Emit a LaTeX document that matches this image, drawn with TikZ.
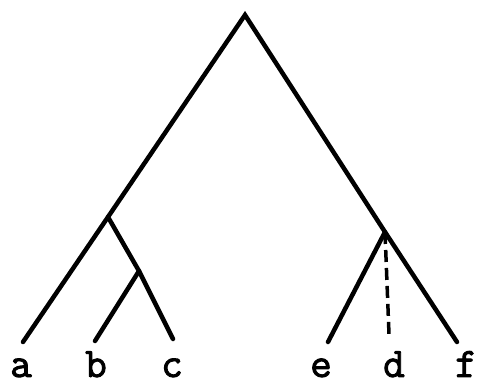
\documentclass[tikz,border=0pt]{standalone}
\usepackage{fontspec}
\newfontfamily\leaffont{Latin Modern Mono}[FakeBold=2.2]
\begin{document}
\begin{tikzpicture}[x=1pt,y=-1pt,
  branch/.style={line width=4.5pt,line cap=round},
  dbranch/.style={line width=3.5pt,dash pattern=on 12pt off 6pt},
  leaf/.style={font=\leaffont\bfseries\fontsize{42}{44}\selectfont,anchor=base,inner sep=0pt}]
\useasboundingbox (0,0) rectangle (480,385);
\coordinate (root) at (245,15);
\coordinate (n1) at (108,217);
\coordinate (n2) at (139,271);
\coordinate (n3) at (385,232);
\coordinate (ea) at (23,342);
\coordinate (eb) at (95,341);
\coordinate (ec) at (173,339);
\coordinate (ee) at (328,342);
\coordinate (ed) at (389,334);
\coordinate (ef) at (457,342);
\draw[branch] (ea) -- (n1) -- (root) -- (n3) -- (ef);
\draw[branch] (n1) -- (n2) -- (ec);
\draw[branch] (n2) -- (eb);
\draw[branch] (n3) -- (ee);
\draw[dbranch] (n3) -- (ed);
\node[leaf] (la) at (21,377) {a};
\node[leaf] (lb) at (96,377) {b};
\node[leaf] (lc) at (172,377) {c};
\node[leaf] (le) at (321,377) {e};
\node[leaf] (ld) at (394,377) {d};
\node[leaf] (lf) at (466,377) {f};
\end{tikzpicture}
\end{document}
